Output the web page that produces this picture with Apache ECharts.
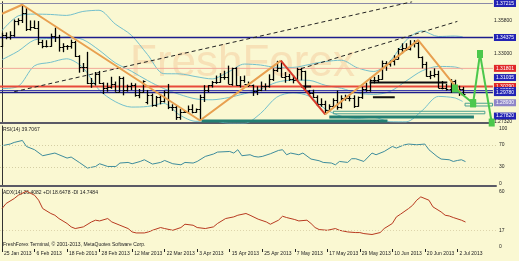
<!DOCTYPE html>
<html><head><meta charset="utf-8">
<script src="https://cdn.jsdelivr.net/npm/echarts@6/dist/echarts.min.js"></script>
<style>html,body{margin:0;padding:0;background:#FAF8D2;}#c{width:519px;height:261px;}</style>
</head><body><div id="c"></div>
<script>
// ---- tick labels (every 8 bars) ----
const tickIdx = [0,8,16,24,32,40,48,56,64,72,80,88,96,104,112];
const tickLabels = ['25 Jan 2013','6 Feb 2013','18 Feb 2013','28 Feb 2013','12 Mar 2013','22 Mar 2013','3 Apr 2013','15 Apr 2013','25 Apr 2013','7 May 2013','17 May 2013','29 May 2013','10 Jun 2013','20 Jun 2013','2 Jul 2013'];
// ---- daily OHLC (bar index 0 = 25 Jan 2013) ----
const opens = [1.3366,1.3457,1.3446,1.3459,1.3575,1.3580,1.3640,1.3507,1.3526,1.3521,1.3398,1.3365,1.3365,1.3453,1.3444,1.3355,1.3365,1.3364,1.3396,1.3285,1.3188,1.3190,1.3060,1.3058,1.3130,1.3055,1.3020,1.3024,1.3047,1.2985,1.3097,1.3003,1.3029,1.3045,1.2960,1.2986,1.2900,1.2955,1.2874,1.2945,1.2907,1.2986,1.2855,1.2856,1.2775,1.2820,1.2817,1.2845,1.2815,1.2845,1.2940,1.3000,1.3040,1.3065,1.3068,1.3110,1.3110,1.3050,1.3180,1.3045,1.3085,1.3050,1.3045,1.2990,1.3000,1.3030,1.3030,1.3095,1.3165,1.3185,1.3110,1.3115,1.3090,1.3080,1.3175,1.3155,1.2995,1.2975,1.2945,1.2880,1.2885,1.2835,1.2862,1.2915,1.2855,1.2935,1.2930,1.2935,1.2865,1.2940,1.3005,1.3000,1.3085,1.3085,1.3095,1.3225,1.3220,1.3240,1.3262,1.3340,1.3348,1.3345,1.3380,1.3395,1.3275,1.3220,1.3120,1.3125,1.3130,1.3015,1.3020,1.3010,1.3075,1.2990,1.3010];
const highs = [1.3478,1.3480,1.3490,1.3588,1.3598,1.3711,1.3687,1.3580,1.3580,1.3575,1.3418,1.3415,1.3470,1.3520,1.3460,1.3390,1.3375,1.3420,1.3410,1.3290,1.3225,1.3318,1.3100,1.3150,1.3159,1.3063,1.3060,1.3110,1.3070,1.3115,1.3110,1.3044,1.3060,1.3055,1.3008,1.3080,1.3000,1.2970,1.2950,1.2960,1.2995,1.3050,1.2880,1.2870,1.2840,1.2830,1.2870,1.2880,1.2845,1.2960,1.3040,1.3040,1.3075,1.3120,1.3140,1.3160,1.3203,1.3186,1.3190,1.3115,1.3120,1.3070,1.3045,1.3030,1.3070,1.3055,1.3130,1.3180,1.3243,1.3245,1.3150,1.3135,1.3120,1.3185,1.3185,1.3160,1.3000,1.3002,1.2955,1.2930,1.2910,1.2880,1.2930,1.2995,1.2955,1.2960,1.2955,1.2955,1.2945,1.3025,1.3060,1.3105,1.3110,1.3125,1.3245,1.3240,1.3245,1.3290,1.3350,1.3389,1.3390,1.3415,1.3416,1.3415,1.3280,1.3235,1.3160,1.3180,1.3160,1.3075,1.3050,1.3090,1.3085,1.3035,1.3025];
const lows = [1.3357,1.3423,1.3420,1.3443,1.3540,1.3559,1.3492,1.3495,1.3510,1.3376,1.3348,1.3355,1.3360,1.3400,1.3320,1.3315,1.3335,1.3345,1.3275,1.3144,1.3150,1.3049,1.3018,1.3038,1.3050,1.2966,1.2985,1.3010,1.2985,1.2980,1.2955,1.2986,1.2998,1.2944,1.2931,1.2975,1.2880,1.2860,1.2860,1.2880,1.2895,1.2840,1.2825,1.2750,1.2751,1.2810,1.2805,1.2805,1.2810,1.2745,1.2900,1.2980,1.3020,1.3050,1.3060,1.3085,1.3050,1.3035,1.3035,1.3020,1.3060,1.3025,1.2950,1.2957,1.2990,1.2995,1.3020,1.3075,1.3150,1.3105,1.3060,1.3075,1.3055,1.3075,1.3080,1.2990,1.2955,1.2935,1.2865,1.2860,1.2797,1.2818,1.2855,1.2835,1.2845,1.2910,1.2905,1.2850,1.2860,1.2925,1.2985,1.2985,1.3055,1.3060,1.3085,1.3160,1.3195,1.3205,1.3255,1.3305,1.3325,1.3330,1.3355,1.3265,1.3180,1.3110,1.3090,1.3105,1.3015,1.3005,1.2995,1.2975,1.2985,1.2950,1.2955];
const closes = [1.3457,1.3446,1.3459,1.3575,1.3580,1.3640,1.3507,1.3526,1.3521,1.3398,1.3365,1.3365,1.3453,1.3444,1.3355,1.3365,1.3364,1.3396,1.3285,1.3188,1.3190,1.3060,1.3058,1.3130,1.3055,1.3020,1.3024,1.3047,1.2985,1.3097,1.3003,1.3029,1.3045,1.2960,1.2986,1.3075,1.2955,1.2874,1.2945,1.2907,1.2986,1.2855,1.2856,1.2775,1.2820,1.2817,1.2845,1.2815,1.2845,1.2940,1.3000,1.3040,1.3065,1.3068,1.3110,1.3110,1.3050,1.3180,1.3045,1.3085,1.3050,1.3045,1.2990,1.3000,1.3030,1.3030,1.3095,1.3165,1.3185,1.3110,1.3115,1.3090,1.3080,1.3175,1.3155,1.2995,1.2975,1.2945,1.2880,1.2885,1.2835,1.2862,1.2915,1.2855,1.2935,1.2930,1.2935,1.2865,1.2940,1.3005,1.3000,1.3085,1.3085,1.3095,1.3225,1.3220,1.3240,1.3262,1.3340,1.3348,1.3345,1.3380,1.3395,1.3275,1.3220,1.3120,1.3125,1.3130,1.3015,1.3020,1.3010,1.3075,1.2990,1.3010,1.2965];
// ---- Bollinger bands (sampled every 4 bars) ----
const bbX = [0,4,8,12,16,20,24,28,32,36,40,44,48,52,56,60,64,68,72,76,80,84,88,92,96,100,104,108,112,114];
const bbUpper = [1.3495,1.3618,1.3633,1.3630,1.3622,1.3655,1.3665,1.3551,1.3457,1.3296,1.3136,1.3134,1.3111,1.3092,1.3150,1.3216,1.3208,1.3188,1.3188,1.3212,1.3237,1.3248,1.3184,1.3154,1.3239,1.3414,1.3492,1.3446,1.3450,1.3444];
const bbMiddle = [1.3253,1.3324,1.3417,1.3430,1.3441,1.3421,1.3333,1.3227,1.3157,1.3079,1.3012,1.2962,1.2925,1.2918,1.2936,1.2969,1.3007,1.3064,1.3082,1.3080,1.3039,1.3014,1.2974,1.2963,1.2987,1.3074,1.3160,1.3196,1.3192,1.3174];
const bbLower = [1.3011,1.3030,1.3201,1.3230,1.3260,1.3187,1.3001,1.2903,1.2857,1.2862,1.2888,1.2790,1.2738,1.2744,1.2722,1.2721,1.2804,1.2940,1.2976,1.2948,1.2841,1.2780,1.2764,1.2772,1.2735,1.2734,1.2828,1.2946,1.2934,1.2904];
// ---- zigzag ----
const zzOrangeX = [0,5,49,69];
const zzOrangeY = [1.3636,1.3711,1.2745,1.3245];
const zzRedX = [69,80];
const zzRedY = [1.3245,1.2797];
const zzOrange2X = [80,103,114];
const zzOrange2Y = [1.2797,1.3416,1.2955];
// ---- trend (dashed) lines ----
const dash1X = [3,101.5];
const dash1Y = [1.2985,1.3736];
const dash2X = [74,112.7];
const dash2Y = [1.3178,1.3572];
// ---- horizontal levels ----
const levelVals = [1.37215,1.34375,1.31801,1.30290,1.29950,1.29780];
const levelColors = ['#8a8aa8','#1c1c8c','#f2a898','#e84a3a','#3a3aa8','#1c1c8c'];
const levelWidths = [1,1.5,1,2,1,1.5];
// ---- support zones (teal) ----
const zoneAX = [49.4,95.4], zoneAY = 1.2741;
const zoneBX = [81,116.8], zoneBY = 1.2774;
const zoneCX = [82,119.5], zoneCY = [1.2801,1.2822];
const zoneDX = [114.6,121.4], zoneDY = [1.2866,1.2889];
// ---- black segments ----
const seg1X = [91,110.2], seg1Y = 1.3062;
const seg2X = [91.8,97.2], seg2Y = 1.2938;
const seg3X = [74,76.5], seg3Y = 1.3029;
// ---- green projection arrows ----
const projAX = [112.1,116.6], projAY = [1.3012,1.2889];
const projBX = [116.6,118.3], projBY = [1.2889,1.3300];
const projCX = [118.3,121.2], projCY = [1.3300,1.2728];
// ---- price scale labels ----
const priceTicks = [1.37215,1.35800,1.34375,1.33000,1.31801,1.31035,1.30290,1.29950,1.29780,1.28930,1.27820,1.27320];
const priceKinds = ['b','n','b','n','r','b','r','b','b','p','b','n'];
// ---- RSI(14) ----
const rsiX = [0,2,3,5,6,8,10,13,14,16,17,19,21,23,24,26,28,29,31,32,34,35,37,39,40,42,44,45,47,48,50,52,53,56,57,58,59,61,62,63,64,66,68,69,70,71,73,74,76,78,79,81,82,83,85,86,87,89,91,92,94,96,97,99,100,102,104,105,107,108,110,111,112,113,114];
const rsiY = [68.8,71.9,74.9,78.5,67.5,61.5,50.5,55.4,52.3,46.2,48.1,38.2,27.9,30.8,35.8,30.8,30.8,37.1,38.2,35.8,40,43.1,35.2,38.2,41.8,35.8,33.9,38.2,37.1,40,49.2,53.6,57.2,58.3,55.4,61.5,50.5,52.3,49.2,48.1,49.2,54.1,60.2,61.5,52.3,55.4,52.3,55.4,44.4,41.3,38.2,37.1,33.9,40,38.2,45,45,40,55.4,52.3,58.3,67.5,64.6,70.6,71.9,70.6,71.9,61.5,49.2,44.4,43.1,40,41.8,43.1,39.7];
// ---- ADX(14) ----
const adxX = [0,1,3,4,6,8,9,10,12,13,14,16,17,18,20,22,23,24,26,27,29,31,32,33,35,36,37,39,40,42,44,45,47,48,50,52,53,55,57,58,60,61,63,65,66,68,69,70,72,73,75,76,77,78,80,82,83,85,87,88,89,91,93,94,96,97,98,100,101,102,103,105,106,108,109,110,111,113,114];
const adxY = [41.1,46.6,52,55.6,60,55.6,50.2,41.1,35.7,33.8,30.2,24.8,21.1,19.3,21.1,26.5,28.4,27.6,30.2,26.5,22.9,19.3,15.6,14.5,14.5,15.6,17.4,20.4,19.3,17.4,20.4,24,22.9,20.4,19.3,21.1,24.8,30.2,32,33.8,35.7,33.8,29.5,26.5,24,28.4,32.7,31.3,29.1,27.6,28.4,24.8,20.4,18.2,17.4,19.3,17.4,15.6,14.9,14.9,13.8,12.8,14.9,19.3,24.8,32,34.9,41.1,44.7,50.2,53.8,50.2,42.9,37.4,33.8,33,31.3,28.4,26.4];

const FONT = 'Liberation Sans';
const XMIN = -0.5, XMAX = 121.5;
const pairs = (xs, ys) => xs.map((x, i) => [x, ys[i]]);
const flat = (xs, v) => xs.map(x => [x, v]);
const box = (xs, ys) => [[xs[0], ys[0]], [xs[1], ys[0]], [xs[1], ys[1]], [xs[0], ys[1]], [xs[0], ys[0]]];
const ohlc = opens.map((o, i) => [i, o, highs[i], lows[i], closes[i]]);

const chart = echarts.init(document.getElementById('c'), null, {renderer: 'canvas'});

function xAxisFor(gi, showLabels) {
  return {
    type: 'value', gridIndex: gi, min: XMIN, max: XMAX,
    axisLine: {show: gi < 2, onZero: false, lineStyle: {color: '#5a5a66', width: 2}},
    axisTick: showLabels ? {show: true, customValues: tickIdx, length: 3, lineStyle: {color: '#222'}} : {show: false},
    axisLabel: showLabels ? {
      show: true, customValues: tickIdx, align: 'left', margin: 2, padding: [0,0,0,2],
      fontFamily: FONT, fontSize: 5, color: '#222',
      formatter: v => tickLabels[tickIdx.indexOf(Math.round(v))] || ''
    } : {show: false},
    splitLine: {show: false}
  };
}
const richLbl = {
  n: {color: '#222', fontSize: 5, fontFamily: FONT},
  b: {color: '#fff', backgroundColor: '#2323b4', fontSize: 5, fontFamily: FONT, padding: [1,2,1,2]},
  r: {color: '#fff', backgroundColor: '#e02828', fontSize: 5, fontFamily: FONT, padding: [1,2,1,2]},
  p: {color: '#fff', backgroundColor: '#8f86c8', fontSize: 5, fontFamily: FONT, padding: [1,2,1,2]}
};
function ln(data, color, width, z, extra) {
  return Object.assign({type: 'line', xAxisIndex: 0, yAxisIndex: 0, data: data, symbol: 'none', silent: true, z: z,
    lineStyle: {color: color, width: width}}, extra || {});
}

const series = [];
// Bollinger bands
series.push(ln(pairs(bbX, bbUpper), '#74c0cc', 1, 2, {smooth: 0.3}));
series.push(ln(pairs(bbX, bbMiddle), '#74c0cc', 1, 2, {smooth: 0.3}));
series.push(ln(pairs(bbX, bbLower), '#74c0cc', 1, 2, {smooth: 0.3}));
// horizontal levels
levelVals.forEach((v, k) => series.push(ln([[XMIN, v], [XMAX, v]], levelColors[k], levelWidths[k], 2)));
// support zones
series.push(ln(flat(zoneAX, zoneAY), '#237f72', 3, 3));
series.push(ln(flat(zoneBX, zoneBY), '#237f72', 3, 3));
series.push(ln(box(zoneCX, zoneCY), '#4aa090', 1, 3));
series.push(ln(box(zoneDX, zoneDY), '#4aa090', 1, 3));
// black segments
series.push(ln(flat(seg1X, seg1Y), '#111', 2, 4));
series.push(ln(flat(seg2X, seg2Y), '#111', 2, 4));
series.push(ln(flat(seg3X, seg3Y), '#111', 2, 4));
// dashed trend lines
series.push(ln(pairs(dash1X, dash1Y), '#222', 1, 3, {lineStyle: {color: '#222', width: 1, type: [4,3]}}));
series.push(ln(pairs(dash2X, dash2Y), '#222', 1, 3, {lineStyle: {color: '#222', width: 1, type: [4,3]}}));
// OHLC bars
series.push({
  type: 'custom', xAxisIndex: 0, yAxisIndex: 0, data: ohlc, z: 5,
  encode: {x: 0, y: [1,2,3,4]},
  renderItem: function (params, api) {
    const x = api.value(0);
    const h = api.coord([x, api.value(2)]);
    const l = api.coord([x, api.value(3)]);
    const o = api.coord([x, api.value(1)]);
    const c = api.coord([x, api.value(4)]);
    const px = Math.round(h[0]) + 0.5;
    return {type: 'group', children: [
      {type: 'line', shape: {x1: px, y1: h[1], x2: px, y2: l[1]}, style: {stroke: '#000', lineWidth: 1.3}},
      {type: 'line', shape: {x1: px - 2, y1: Math.round(o[1]) + 0.5, x2: px, y2: Math.round(o[1]) + 0.5}, style: {stroke: '#000', lineWidth: 1}},
      {type: 'line', shape: {x1: px, y1: Math.round(c[1]) + 0.5, x2: px + 2, y2: Math.round(c[1]) + 0.5}, style: {stroke: '#000', lineWidth: 1}}
    ]};
  }
});
// zigzags
series.push(ln(pairs(zzOrangeX, zzOrangeY), '#e8a050', 2, 6));
series.push(ln(pairs(zzRedX, zzRedY), '#d83a2a', 2, 6));
series.push(ln(pairs(zzOrange2X, zzOrange2Y), '#e8a050', 2, 6));
// projection arrows
[[projAX, projAY], [projBX, projBY], [projCX, projCY]].forEach(p => series.push(
  ln(pairs(p[0], p[1]), '#4cc84c', 2, 7, {symbol: ['none','arrow'], symbolSize: [6,8], symbolKeepAspect: true, itemStyle: {color: '#4cc84c'}})));
// RSI
series.push({type: 'line', xAxisIndex: 1, yAxisIndex: 1, data: pairs(rsiX, rsiY), symbol: 'none',
  lineStyle: {color: '#3d8c9c', width: 1},
  markLine: {silent: true, symbol: 'none', label: {show: false}, lineStyle: {color: '#d4cea4', type: [1,2], width: 1}, data: [{yAxis: 70}, {yAxis: 30}]}});
// ADX
series.push({type: 'line', xAxisIndex: 2, yAxisIndex: 2, data: pairs(adxX, adxY), symbol: 'none',
  lineStyle: {color: '#b83a20', width: 1},
  markLine: {silent: true, symbol: 'none', label: {show: false}, lineStyle: {color: '#ddd5ac', type: [1,2], width: 1}, data: [{yAxis: 17}]}});

chart.setOption({
  animation: false,
  backgroundColor: '#FAF8D2',
  grid: [
    {left: 0, right: 23, top: 0, height: 123},
    {left: 0, right: 23, top: 126, height: 60},
    {left: 0, right: 23, top: 189, height: 60}
  ],
  xAxis: [xAxisFor(0, false), xAxisFor(1, false), xAxisFor(2, true)],
  yAxis: [
    {type: 'value', gridIndex: 0, position: 'right', min: 1.27241, max: 1.37364,
      axisLine: {show: true, lineStyle: {color: '#333'}}, axisTick: {show: false}, splitLine: {show: false},
      axisLabel: {show: true, customValues: priceTicks, margin: 1, rich: richLbl,
        formatter: v => { const k = priceTicks.findIndex(t => Math.abs(t - v) < 1e-7); return '{' + (priceKinds[k] || 'n') + '|' + v.toFixed(5) + '}'; }}},
    {type: 'value', gridIndex: 1, position: 'right', min: -5, max: 105,
      axisLine: {show: true, lineStyle: {color: '#333'}}, axisTick: {show: false}, splitLine: {show: false},
      axisLabel: {show: true, customValues: [0,30,70,100], margin: 3, fontSize: 5, fontFamily: FONT, color: '#222'}},
    {type: 'value', gridIndex: 2, position: 'right', min: -3, max: 62.4,
      axisLine: {show: true, lineStyle: {color: '#333'}}, axisTick: {show: false}, splitLine: {show: false},
      axisLabel: {show: true, customValues: [0,17,60], margin: 3, fontSize: 5, fontFamily: FONT, color: '#222'}}
  ],
  graphic: [
    {type: 'text', left: 130, top: 42, z: 0, silent: true, style: {text: 'FreshForex', font: '44px "Liberation Sans"', fill: 'rgba(240,160,110,0.26)'}},
    {type: 'text', left: 3, top: 127, style: {text: 'RSI(14) 39.7067', font: '5px "Liberation Sans"', fill: '#222'}},
    {type: 'text', left: 3, top: 190, style: {text: 'ADX(14) 26.4082 +DI 18.6478 -DI 14.7484', font: '5px "Liberation Sans"', fill: '#222'}},
    {type: 'text', left: 3, top: 242, style: {text: 'FreshForex Terminal, \u00a9 2001-2013, MetaQuotes Software Corp.', font: '5px "Liberation Sans"', fill: '#222'}}
  ],
  series: series
});
</script></body></html>
